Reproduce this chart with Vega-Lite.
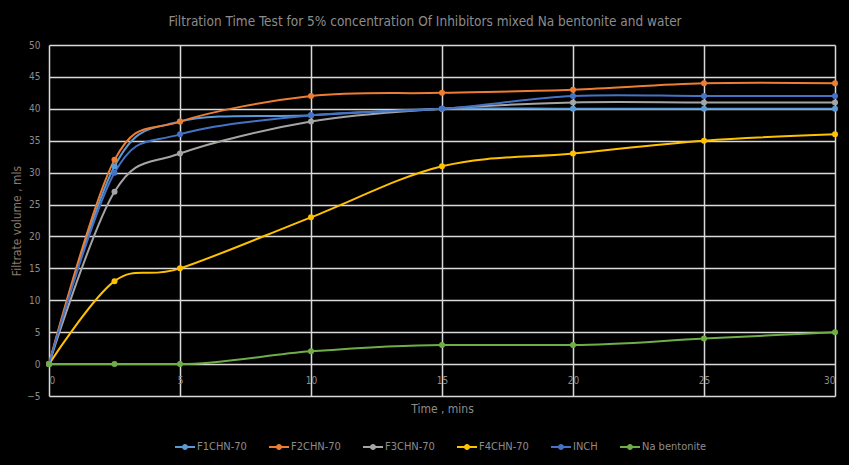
{
  "$schema": "https://vega.github.io/schema/vega-lite/v6.json",
  "width": 786,
  "height": 351,
  "autosize": {"type": "none"},
  "padding": {"left": 49, "top": 45, "right": 14, "bottom": 69},
  "background": "#000000",
  "title": {
    "text": "Filtration Time Test for 5% concentration  Of  Inhibitors  mixed Na bentonite  and water",
    "font": "DejaVu Sans Condensed, sans-serif",
    "fontSize": 13.5,
    "fontWeight": "normal",
    "color": "#8c8c8c",
    "anchor": "middle",
    "dx": -17,
    "offset": 12
  },
  "config": {
    "view": {"stroke": null},
    "font": "DejaVu Sans Condensed, sans-serif"
  },
  "data": {
    "values": [
      {"t": 0, "series": "F1CHN-70", "v": 0},
      {"t": 2.5, "series": "F1CHN-70", "v": 31},
      {"t": 5, "series": "F1CHN-70", "v": 38},
      {"t": 10, "series": "F1CHN-70", "v": 39},
      {"t": 15, "series": "F1CHN-70", "v": 40},
      {"t": 20, "series": "F1CHN-70", "v": 40},
      {"t": 25, "series": "F1CHN-70", "v": 40},
      {"t": 30, "series": "F1CHN-70", "v": 40},
      {"t": 0, "series": "F2CHN-70", "v": 0},
      {"t": 2.5, "series": "F2CHN-70", "v": 32},
      {"t": 5, "series": "F2CHN-70", "v": 38},
      {"t": 10, "series": "F2CHN-70", "v": 42},
      {"t": 15, "series": "F2CHN-70", "v": 42.5},
      {"t": 20, "series": "F2CHN-70", "v": 43},
      {"t": 25, "series": "F2CHN-70", "v": 44},
      {"t": 30, "series": "F2CHN-70", "v": 44},
      {"t": 0, "series": "F3CHN-70", "v": 0},
      {"t": 2.5, "series": "F3CHN-70", "v": 27},
      {"t": 5, "series": "F3CHN-70", "v": 33},
      {"t": 10, "series": "F3CHN-70", "v": 38},
      {"t": 15, "series": "F3CHN-70", "v": 40},
      {"t": 20, "series": "F3CHN-70", "v": 41},
      {"t": 25, "series": "F3CHN-70", "v": 41},
      {"t": 30, "series": "F3CHN-70", "v": 41},
      {"t": 0, "series": "F4CHN-70", "v": 0},
      {"t": 2.5, "series": "F4CHN-70", "v": 13},
      {"t": 5, "series": "F4CHN-70", "v": 15},
      {"t": 10, "series": "F4CHN-70", "v": 23},
      {"t": 15, "series": "F4CHN-70", "v": 31},
      {"t": 20, "series": "F4CHN-70", "v": 33},
      {"t": 25, "series": "F4CHN-70", "v": 35},
      {"t": 30, "series": "F4CHN-70", "v": 36},
      {"t": 0, "series": "INCH", "v": 0},
      {"t": 2.5, "series": "INCH", "v": 30},
      {"t": 5, "series": "INCH", "v": 36},
      {"t": 10, "series": "INCH", "v": 39},
      {"t": 15, "series": "INCH", "v": 40},
      {"t": 20, "series": "INCH", "v": 42},
      {"t": 25, "series": "INCH", "v": 42},
      {"t": 30, "series": "INCH", "v": 42},
      {"t": 0, "series": "Na bentonite", "v": 0},
      {"t": 2.5, "series": "Na bentonite", "v": 0},
      {"t": 5, "series": "Na bentonite", "v": 0},
      {"t": 10, "series": "Na bentonite", "v": 2},
      {"t": 15, "series": "Na bentonite", "v": 3},
      {"t": 20, "series": "Na bentonite", "v": 3},
      {"t": 25, "series": "Na bentonite", "v": 4},
      {"t": 30, "series": "Na bentonite", "v": 5}
    ]
  },
  "encoding": {
    "x": {
      "field": "t",
      "type": "quantitative",
      "scale": {"domain": [0, 30], "nice": false},
      "axis": {
        "title": "Time , mins",
        "values": [0, 5, 10, 15, 20, 25, 30],
        "grid": true,
        "gridColor": "#d9d9d9",
        "gridWidth": 1.5,
        "gridOpacity": 1,
        "domain": false,
        "ticks": false,
        "labelPadding": -21,
        "labelColor": "#8c8c8c",
        "labelFontSize": 10,
        "titleColor": "#8c8c8c",
        "titleFontSize": 12,
        "titleFontWeight": "normal",
        "titlePadding": 7
      }
    },
    "y": {
      "field": "v",
      "type": "quantitative",
      "scale": {"domain": [-5, 50], "nice": false, "zero": false},
      "axis": {
        "title": "Filtrate volume , mls",
        "values": [-5, 0, 5, 10, 15, 20, 25, 30, 35, 40, 45, 50],
        "grid": true,
        "gridColor": "#d9d9d9",
        "gridWidth": 1.5,
        "gridOpacity": 1,
        "domain": false,
        "ticks": false,
        "labelPadding": 9,
        "labelColor": "#8c8c8c",
        "labelFontSize": 10,
        "titleColor": "#8a7a6a",
        "titleFontSize": 12,
        "titleFontWeight": "normal",
        "titlePadding": 3
      }
    },
    "color": {
      "field": "series",
      "type": "nominal",
      "scale": {
        "domain": ["F1CHN-70", "F2CHN-70", "F3CHN-70", "F4CHN-70", "INCH", "Na bentonite"],
        "range": ["#5B9BD5", "#ED7D31", "#A5A5A5", "#FFC000", "#4472C4", "#70AD47"]
      },
      "legend": {
        "title": null,
        "orient": "none",
        "direction": "horizontal",
        "legendX": 126,
        "legendY": 392,
        "symbolType": "M-1,-0.1L1,-0.1L1,0.1L-1,0.1Z M0.3,0A0.3,0.3 0 1 1 -0.3,0A0.3,0.3 0 1 1 0.3,0Z",
        "symbolSize": 400,
        "symbolStrokeWidth": 0,
        "labelColor": "#8c8c8c",
        "labelFontSize": 11,
        "labelOffset": 2,
        "columnPadding": 22
      }
    }
  },
  "layer": [
    {
      "transform": [{"filter": "datum.series !== 'Na bentonite'"}],
      "mark": {"type": "line", "interpolate": "cardinal", "strokeWidth": 2}
    },
    {
      "transform": [{"filter": "datum.series === 'Na bentonite'"}],
      "mark": {"type": "line", "interpolate": "monotone", "strokeWidth": 2}
    },
    {
      "mark": {"type": "point", "filled": true, "size": 36, "opacity": 1}
    }
  ]
}
